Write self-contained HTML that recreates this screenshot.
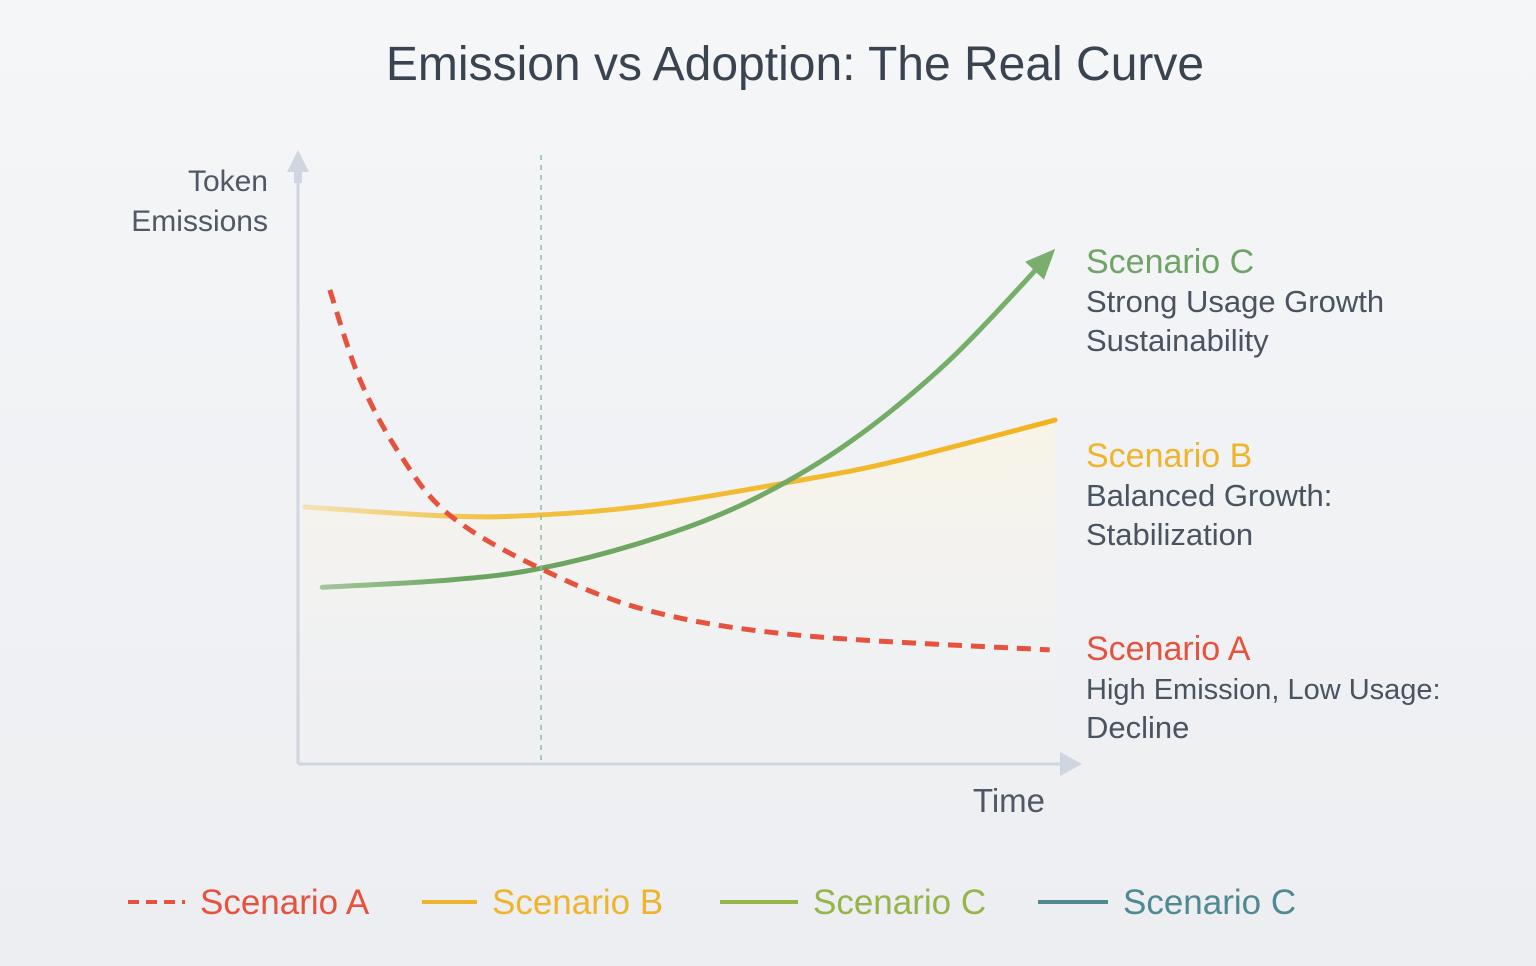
<!DOCTYPE html>
<html><head><meta charset="utf-8">
<style>
html,body{margin:0;padding:0;background:#f1f2f4;}
svg{display:block;font-family:"Liberation Sans",sans-serif;}
</style></head>
<body>
<svg id="chart" width="1536" height="966" viewBox="0 0 1536 966" xmlns="http://www.w3.org/2000/svg">
<defs>
<linearGradient id="bg" x1="0" y1="0" x2="0" y2="1"><stop offset="0" stop-color="#f5f6f8"/><stop offset="1" stop-color="#eceef1"/></linearGradient>
<linearGradient id="fillB" x1="0" y1="0" x2="0" y2="1"><stop offset="0" stop-color="#fbf4df" stop-opacity="0.7"/><stop offset="0.6" stop-color="#f7f3ea" stop-opacity="0.2"/><stop offset="1" stop-color="#f7f3ea" stop-opacity="0"/></linearGradient>
<linearGradient id="fadeB" x1="0" y1="0" x2="1" y2="0"><stop offset="0" stop-color="#f3c246" stop-opacity="0.35"/><stop offset="0.25" stop-color="#f2c040" stop-opacity="1"/><stop offset="1" stop-color="#f2b320"/></linearGradient>
<linearGradient id="fadeC" x1="0" y1="0" x2="1" y2="0"><stop offset="0" stop-color="#6da862" stop-opacity="0.6"/><stop offset="0.2" stop-color="#6aa35f"/><stop offset="1" stop-color="#78b06a"/></linearGradient>
</defs>
<rect width="1536" height="966" fill="url(#bg)"/>
<text x="795" y="80" text-anchor="middle" font-size="48" fill="#3a4350">Emission vs Adoption: The Real Curve</text>
<g id="plot"></g>
<line x1="298" y1="172" x2="298" y2="764" stroke="#cfd6e0" stroke-width="3"/>
<polygon points="287,172 298,150 309,172" fill="#cfd6e0"/>
<rect x="294" y="165" width="8" height="18" fill="#cfd6e0"/>
<line x1="298" y1="764" x2="1065" y2="764" stroke="#cfd6e0" stroke-width="3"/>
<polygon points="1060,752 1082,764 1060,776" fill="#cfd6e0"/>
<text x="268" y="191" text-anchor="end" font-size="30" fill="#4f5864">Token</text>
<text x="268" y="231" text-anchor="end" font-size="30" fill="#4f5864">Emissions</text>
<text x="1045" y="812" text-anchor="end" font-size="33" fill="#4f5864">Time</text>
<line x1="541" y1="155" x2="541" y2="762" stroke="#8cc0a4" stroke-width="1.5" stroke-dasharray="5,5"/>

<g>
<text x="1086" y="273" font-size="34" fill="#6ea566">Scenario C</text>
<text x="1086" y="312" font-size="31" fill="#4a5360">Strong Usage Growth</text>
<text x="1086" y="351" font-size="31" fill="#4a5360">Sustainability</text>
</g>
<g>
<text x="1086" y="467" font-size="34" fill="#eeb52c">Scenario B</text>
<text x="1086" y="506" font-size="31" fill="#4a5360">Balanced Growth:</text>
<text x="1086" y="545" font-size="31" fill="#4a5360">Stabilization</text>
</g>
<g>
<text x="1086" y="660" font-size="34" fill="#e5533f">Scenario A</text>
<text x="1086" y="699" font-size="29" fill="#4a5360">High Emission, Low Usage:</text>
<text x="1086" y="738" font-size="31" fill="#4a5360">Decline</text>
</g>

<g>
<g>
<line x1="128" y1="902" x2="185" y2="902" stroke="#e5533f" stroke-width="4" stroke-dasharray="11,7"/>
<text x="200" y="914" font-size="35" fill="#e5533f">Scenario A</text></g>
<g>
<line x1="422" y1="902" x2="477" y2="902" stroke="#eeb52c" stroke-width="4"/>
<text x="492" y="914" font-size="35" fill="#eeb52c">Scenario B</text></g>
<g>
<line x1="720" y1="902" x2="798" y2="902" stroke="#95b54a" stroke-width="4"/>
<text x="813" y="914" font-size="35" fill="#95b54a">Scenario C</text></g>
<g>
<line x1="1038" y1="902" x2="1108" y2="902" stroke="#4f8a92" stroke-width="4"/>
<text x="1123" y="914" font-size="35" fill="#4f8a92">Scenario C</text></g>
</g>
</svg>
<script>
const timeA = [0.42, 0.82, 1.35, 2.0, 3.2, 4.65, 6.63, 9.93];
const valuesA = [77.8, 63, 50.7, 40.8, 32, 25, 21, 18.6];
const timeB = [0.09, 2.0, 3.2, 4.65, 6.63, 7.95, 10];
const valuesB = [42.1, 40.6, 40.8, 42.4, 46.5, 49.8, 56.4];
const timeC = [0.32, 2.0, 3.2, 4.65, 5.97, 7.29, 8.61, 9.93];
const valuesC = [28.9, 30.1, 32, 36.7, 43.1, 52.8, 66.3, 83.6];

function xs(t){ return 298 + t * 75.7; }
function ys(v){ return 763 - v * 6.08; }
function smooth(ts, vs){
  const p = ts.map((t,i)=>[xs(t), ys(vs[i])]);
  let d = 'M' + p[0][0] + ',' + p[0][1];
  for(let i=0;i<p.length-1;i++){
    const p0=p[Math.max(0,i-1)], p1=p[i], p2=p[i+1], p3=p[Math.min(p.length-1,i+2)];
    const c1=[p1[0]+(p2[0]-p0[0])/6, p1[1]+(p2[1]-p0[1])/6];
    const c2=[p2[0]-(p3[0]-p1[0])/6, p2[1]-(p3[1]-p1[1])/6];
    d += ' C'+c1[0]+','+c1[1]+' '+c2[0]+','+c2[1]+' '+p2[0]+','+p2[1];
  }
  return {d, p};
}
const NS='http://www.w3.org/2000/svg';
const plot=document.getElementById('plot');
function mk(tag, attrs){ const e=document.createElementNS(NS,tag); for(const k in attrs) e.setAttribute(k, attrs[k]); plot.appendChild(e); return e; }

const sb = smooth(timeB, valuesB);
const area = mk('path', {d: sb.d + ' L' + sb.p[sb.p.length-1][0] + ',762 L' + sb.p[0][0] + ',762 Z', fill:'url(#fillB)'});



const lb = mk('path', {d: sb.d, fill:'none', stroke:'url(#fadeB)', 'stroke-width':5, 'stroke-linecap':'round'});



const sc = smooth(timeC, valuesC);
const lc = mk('path', {d: sc.d, fill:'none', stroke:'url(#fadeC)', 'stroke-width':5, 'stroke-linecap':'round'});


const n = sc.p.length, e1 = sc.p[n-1], e0 = sc.p[n-2];
const ang = Math.atan2(e1[1]-e0[1], e1[0]-e0[0]);
const tip=[e1[0]+Math.cos(ang)*8, e1[1]+Math.sin(ang)*8];
const bx=tip[0]-Math.cos(ang)*30, by=tip[1]-Math.sin(ang)*30;
const px=-Math.sin(ang)*13, py=Math.cos(ang)*13;
const ar = mk('polygon', {points: tip[0]+','+tip[1]+' '+(bx+px)+','+(by+py)+' '+(bx-px)+','+(by-py), fill:'#7aae6c'});



const sa = smooth(timeA, valuesA);
const la = mk('path', {d: sa.d, fill:'none', stroke:'#e5533f', 'stroke-width':5, 'stroke-dasharray':'14,9'});


</script>
</body></html>
